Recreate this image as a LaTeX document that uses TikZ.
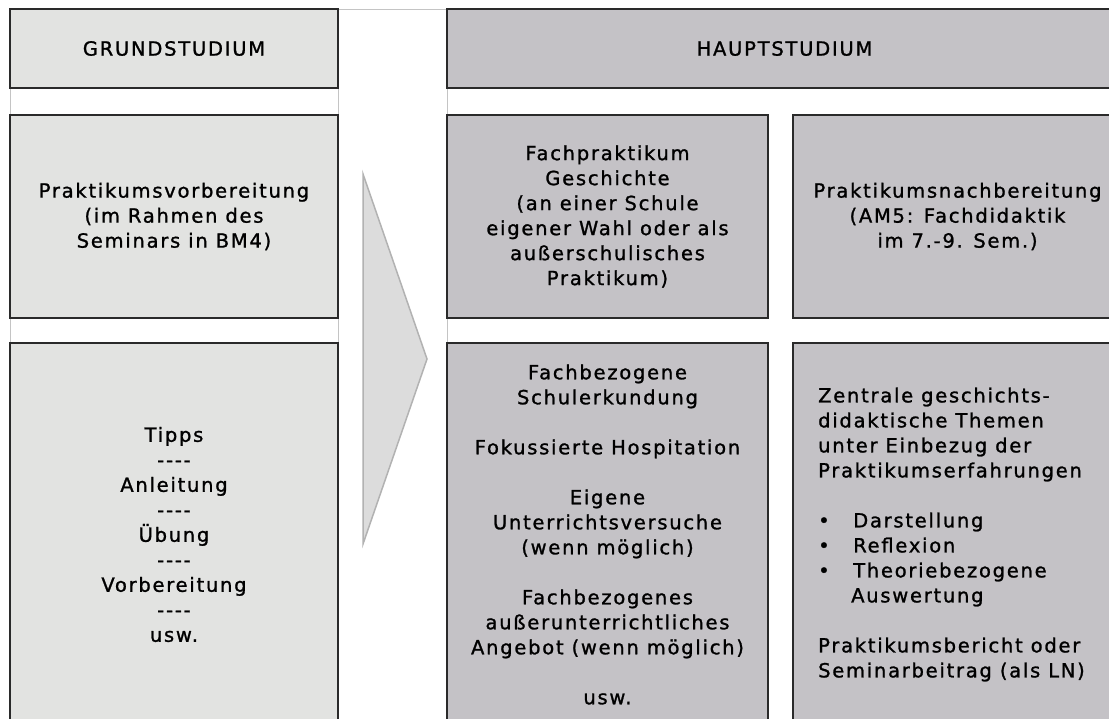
\documentclass[tikz,border=0pt]{standalone}
\usepackage{fontspec}
\usepackage{tikz}
\newfontfamily\boxfont[LetterSpace=9,FakeBold=1.2]{DejaVu Sans}
\definecolor{grundfill}{HTML}{E2E3E1}
\definecolor{hauptfill}{HTML}{C4C2C6}
\definecolor{cellline}{HTML}{2A2A2A}
\definecolor{gridline}{HTML}{C4C4C4}
\definecolor{arrowfill}{HTML}{DCDCDC}
\definecolor{arrowline}{HTML}{B2B2B2}
\newcommand{\trenner}{-{}-{}-{}-}

\begin{document}
\begin{tikzpicture}[
      x=1pt,y=-1pt,
      font=\boxfont\fontsize{19.5}{25}\selectfont,
      cell/.style={rectangle,draw=cellline,line width=1.5pt,inner sep=0pt,align=center},
      grund/.style={cell,fill=grundfill},
      haupt/.style={cell,fill=hauptfill},
      grid/.style={draw=gridline,line width=0.8pt}
    ]
    \clip (0,0) rectangle (1109,718);
    \fill[white] (0,0) rectangle (1109,718);
    % light table grid
    \draw[grid] (10,9) -- (1109,9);
    \foreach \x in {10,338,447}{
      \draw[grid] (\x,9) -- (\x,718);
    }

    % header row
    \node[grund,minimum width=328pt,minimum height=79pt] (grundstudium) at (174,48.5) {GRUNDSTUDIUM};
    \node[haupt,minimum width=675pt,minimum height=79pt] (hauptstudium) at (784.5,48.5) {HAUPTSTUDIUM};

    % second row
    \node[grund,minimum width=328pt,minimum height=203pt] (vorbereitung) at (174,216.5)
      {Praktikumsvorbereitung\\(im Rahmen des\\Seminars in BM4)};
    \node[haupt,minimum width=321pt,minimum height=203pt] (fachpraktikum) at (607.5,216.5)
      {Fachpraktikum\\Geschichte\\(an einer Schule\\eigener Wahl oder als\\außerschulisches\\Praktikum)};
    \node[haupt,minimum width=329pt,minimum height=203pt] (nachbereitung) at (957.5,216.5)
      {Praktikumsnachbereitung\\(AM5: Fachdidaktik\\im 7.-9. Sem.)};

    % third row
    \node[grund,minimum width=328pt,minimum height=383pt] (uebung) at (174,534.5)
      {Tipps\\\trenner\\Anleitung\\\trenner\\Übung\\\trenner\\Vorbereitung\\\trenner\\usw.};
    \node[haupt,minimum width=321pt,minimum height=383pt] (begleitung) at (607.5,534.5)
      {Fachbezogene\\Schulerkundung\\[25pt]Fokussierte Hospitation\\[25pt]Eigene\\Unterrichtsversuche\\(wenn möglich)\\[25pt]Fachbezogenes\\außerunterrichtliches\\Angebot (wenn möglich)\\[25pt]usw.};
    \node[haupt,minimum width=329pt,minimum height=383pt] (auswertung) at (957.5,534.5) {};
    \node[anchor=west,align=left,inner sep=0pt] (themen) at (818,534.5)
      {Zentrale geschichts-\\didaktische Themen\\unter Einbezug der\\Praktikumserfahrungen\\[25pt]%
       \makebox[35pt][l]{•}Darstellung\\\makebox[35pt][l]{•}Reflexion\\\makebox[35pt][l]{•}Theoriebezogene\\\hspace*{33pt}Auswertung\\[25pt]%
       Praktikumsbericht oder\\Seminarbeitrag (als LN)};

    % big arrow
    \filldraw[fill=arrowfill,draw=arrowline,line width=1.5pt,line join=miter]
      (363,174) -- (427,359) -- (363,544) -- cycle;
  \end{tikzpicture}
\end{document}
